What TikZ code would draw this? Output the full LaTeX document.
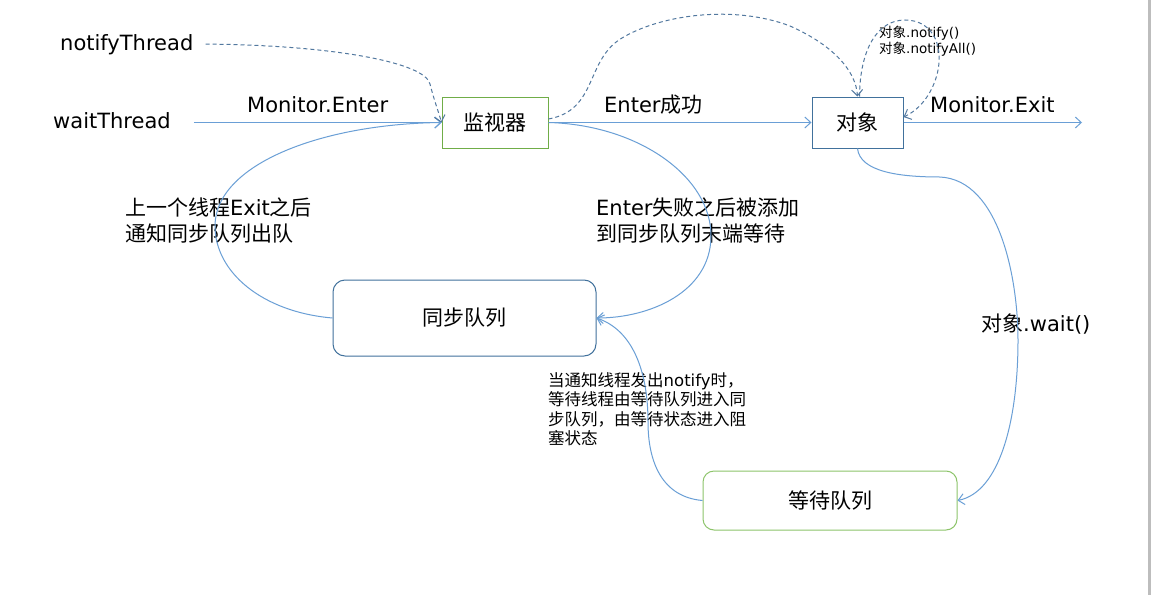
\documentclass[tikz,border=0pt]{standalone}
\usepackage{fontspec}
\setmainfont{DejaVu Sans}
\newfontfamily\cjk{Noto Sans CJK SC}
\usetikzlibrary{arrows.meta}
\definecolor{lineblue}{HTML}{6A9FD6}
\definecolor{dashblue}{HTML}{52789F}
\definecolor{boxblue}{HTML}{41719C}
\definecolor{boxgreen}{HTML}{70AD47}
\definecolor{boxgreenlight}{HTML}{8DC46A}
\definecolor{edgegray}{HTML}{BDBDBD}
\newcommand{\zh}[1]{{\cjk #1}}
\begin{document}
\begin{tikzpicture}[x=1pt,y=-1pt,
  big/.style={font=\fontsize{21}{26}\selectfont, inner sep=0pt, anchor=base west},
  smalltxt/.style={font=\fontsize{16.5}{20}\selectfont, inner sep=0pt, anchor=base west},
  tinytxt/.style={font=\fontsize{13.5}{16}\selectfont, inner sep=0pt, anchor=base west},
  box/.style={draw, line width=1pt, font=\fontsize{21}{26}\selectfont, inner sep=0pt},
  tip/.style={-{Straight Barb[length=6pt,width=11pt,line width=1pt]}},
  flow/.style={draw=lineblue, line width=1pt, tip},
  dflow/.style={draw=dashblue, line width=1pt, dash pattern=on 4pt off 3pt, tip}]
\useasboundingbox (0,0) rectangle (1151,597);
\fill[white] (0,0) rectangle (1151,597);
\fill[edgegray] (1148,0) rectangle (1151,595);

% boxes
\node[box, draw=boxgreen, minimum width=106pt, minimum height=51pt] (mon) at (495,122.5) {\zh{监视器}};
\node[box, draw=boxblue, minimum width=91pt, minimum height=51pt] (obj) at (857.5,122.5) {\zh{对象}};
\node[box, draw=boxblue, rounded corners=12pt, minimum width=263pt, minimum height=76pt] (sync) at (464.5,318) {\zh{同步队列}};
\node[box, draw=boxgreenlight, rounded corners=11pt, minimum width=254pt, minimum height=59pt] (wait) at (830,500.5) {\zh{等待队列}};

% labels
\node[big] (nt) at (60,50) {notifyThread};
\node[big] (wt) at (53,128) {waitThread};
\node[big] (menter) at (247,112) {Monitor.Enter};
\node[big] (ok) at (604,112) {Enter\zh{成功}};
\node[big] (mexit) at (930,112) {Monitor.Exit};
\node[big] (l1a) at (125,215) {\zh{上一个线程}Exit\zh{之后}};
\node[big] (l1b) at (125,241) {\zh{通知同步队列出队}};
\node[big] (l2a) at (596,215) {Enter\zh{失败之后被添加}};
\node[big] (l2b) at (596,241) {\zh{到同步队列末端等待}};
\node[big] (lw) at (981,331) {\zh{对象}.wait()};
\node[tinytxt] (n1) at (879,37) {\zh{对象}.notify()};
\node[tinytxt] (n2) at (879,53) {\zh{对象}.notifyAll()};
\node[smalltxt] (s1) at (548,386) {\zh{当通知线程发出}notify\zh{时，}};
\node[smalltxt] (s2) at (548,405.5) {\zh{等待线程由等待队列进入同}};
\node[smalltxt] (s3) at (548,425) {\zh{步队列，由等待状态进入阻}};
\node[smalltxt] (s4) at (548,444.5) {\zh{塞状态}};

\coordinate (exitend) at (1082,122.5);

% straight connectors
\draw[flow, shorten <=23pt] (wt.east |- mon.west) -- (mon.west);
\draw[flow] (mon.east) -- (obj.west);
\draw[flow] (obj.east) -- (exitend);

% curved connectors
\draw[flow] (sync.west) .. controls (262,312) and (215,272) .. (215,226)
   .. controls (215,165) and (320,124) .. (mon.west);
\draw[flow] (mon.east) .. controls (640,125) and (712,178) .. (711,237)
   .. controls (710,292) and (650,318) .. (sync.east);
\draw[flow] (wait.west) .. controls (662,497) and (648,462) .. (648,422)
   .. controls (648,370) and (632,330) .. (sync.east);
\draw[flow] (obj.south) .. controls (860,172) and (900,177) .. (940,177)
   .. controls (1000,180) and (1018,280) .. (1018,340)
   .. controls (1018,420) and (1000,492) .. (wait.east);

% dashed connectors
\draw[dflow, shorten <=12pt] (nt.east |- 0,44) .. controls (330,45) and (425,62) .. (430,84)
   .. controls (434,100) and (438,110) .. (mon.west);
\draw[dflow] ([yshift=3.5pt]mon.east) .. controls (598,110) and (585,60) .. (622,38)
   .. controls (662,14) and (735,5) .. (790,26)
   .. controls (835,46) and (856,72) .. (obj.north);
\draw[dflow] ([xshift=2pt]obj.north) .. controls (860,48) and (878,20) .. (905,20)
   .. controls (935,20) and (945,50) .. (936,78)
   .. controls (929,100) and (915,112) .. ([yshift=5.5pt]obj.east);
\end{tikzpicture}
\end{document}
